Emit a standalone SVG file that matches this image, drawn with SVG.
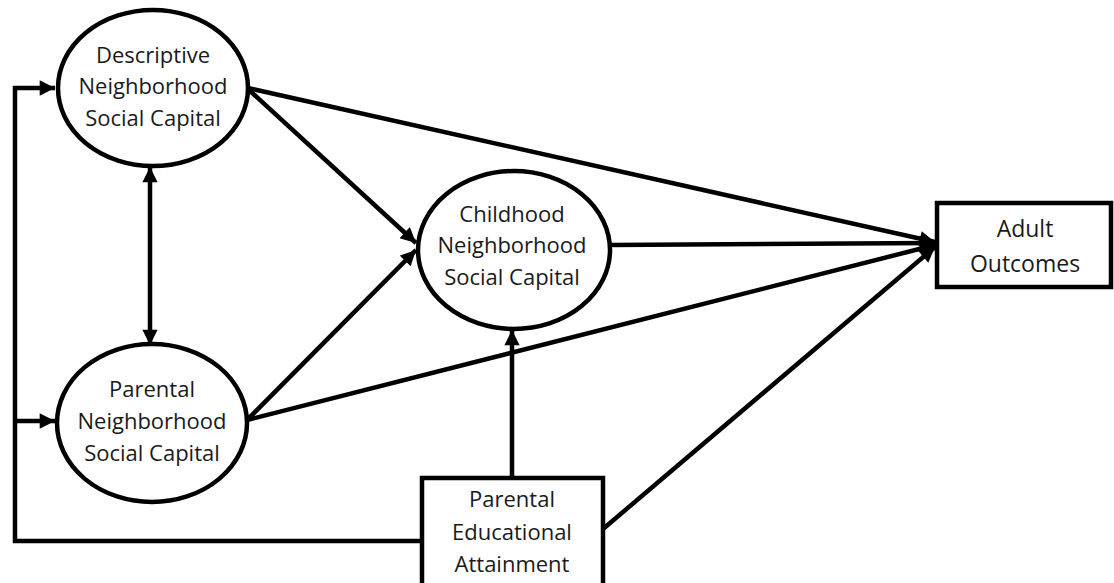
<svg xmlns="http://www.w3.org/2000/svg" width="1114" height="583" viewBox="0 0 1114 583">
  <defs>
    <style>
      .node { fill: #ffffff; stroke: #000000; stroke-width: 4.5; }
      .edge { fill: none; stroke: #000000; stroke-width: 4.5; }
      .label { font-family: "Open Sans", "Liberation Sans", sans-serif; font-size: 22px; fill: #1a1a1a; text-anchor: middle; }
    </style>
    <marker id="arrow" viewBox="0 0 10 10" refX="10" refY="5" markerWidth="3.8" markerHeight="3.4" markerUnits="strokeWidth" orient="auto-start-reverse">
      <path d="M0,0 L10,5 L0,10 Z" fill="#000000"/>
    </marker>
  </defs>
  <rect width="1114" height="583" fill="#ffffff"/>

  <g id="connectors">
    <!-- feedback path from parental education to both left ellipses -->
    <polyline class="edge" points="422,541 15,541 15,88 55,88" marker-end="url(#arrow)"/>
    <polyline class="edge" points="15,421 55,421" marker-end="url(#arrow)"/>
    <!-- correlation between descriptive and parental capital -->
    <line class="edge" x1="150" y1="167" x2="150" y2="345" marker-start="url(#arrow)" marker-end="url(#arrow)"/>
    <!-- paths into childhood capital -->
    <line class="edge" x1="248" y1="89" x2="416" y2="243" marker-end="url(#arrow)"/>
    <line class="edge" x1="247" y1="420" x2="416" y2="250" marker-end="url(#arrow)"/>
    <line class="edge" x1="512" y1="478" x2="512" y2="330" marker-end="url(#arrow)"/>
    <!-- paths into adult outcomes -->
    <line class="edge" x1="248" y1="88" x2="935" y2="242" marker-end="url(#arrow)"/>
    <line class="edge" x1="610" y1="245" x2="935" y2="243" marker-end="url(#arrow)"/>
    <line class="edge" x1="247" y1="420" x2="935" y2="245" marker-end="url(#arrow)"/>
    <line class="edge" x1="603" y1="529" x2="935" y2="247" marker-end="url(#arrow)"/>
  </g>

  <g id="descriptive">
    <ellipse class="node" cx="153" cy="88" rx="95" ry="78"/>
    <text class="label" x="153" y="63">Descriptive</text>
    <text class="label" x="153" y="94">Neighborhood</text>
    <text class="label" x="153" y="126">Social Capital</text>
  </g>

  <g id="parental">
    <ellipse class="node" cx="152" cy="423" rx="95" ry="79"/>
    <text class="label" x="152" y="397">Parental</text>
    <text class="label" x="152" y="429">Neighborhood</text>
    <text class="label" x="152" y="461">Social Capital</text>
  </g>

  <g id="childhood">
    <ellipse class="node" cx="514" cy="250" rx="96" ry="79"/>
    <text class="label" x="512" y="222">Childhood</text>
    <text class="label" x="512" y="253">Neighborhood</text>
    <text class="label" x="512" y="285">Social Capital</text>
  </g>

  <g id="adult">
    <rect class="node" x="937" y="203" width="174" height="84"/>
    <text class="label" x="1025" y="237" style="font-size:23px">Adult</text>
    <text class="label" x="1025" y="272" style="font-size:23px">Outcomes</text>
  </g>

  <g id="education">
    <rect class="node" x="422" y="478" width="181" height="110"/>
    <text class="label" x="512" y="507">Parental</text>
    <text class="label" x="512" y="540">Educational</text>
    <text class="label" x="512" y="572">Attainment</text>
  </g>
</svg>
